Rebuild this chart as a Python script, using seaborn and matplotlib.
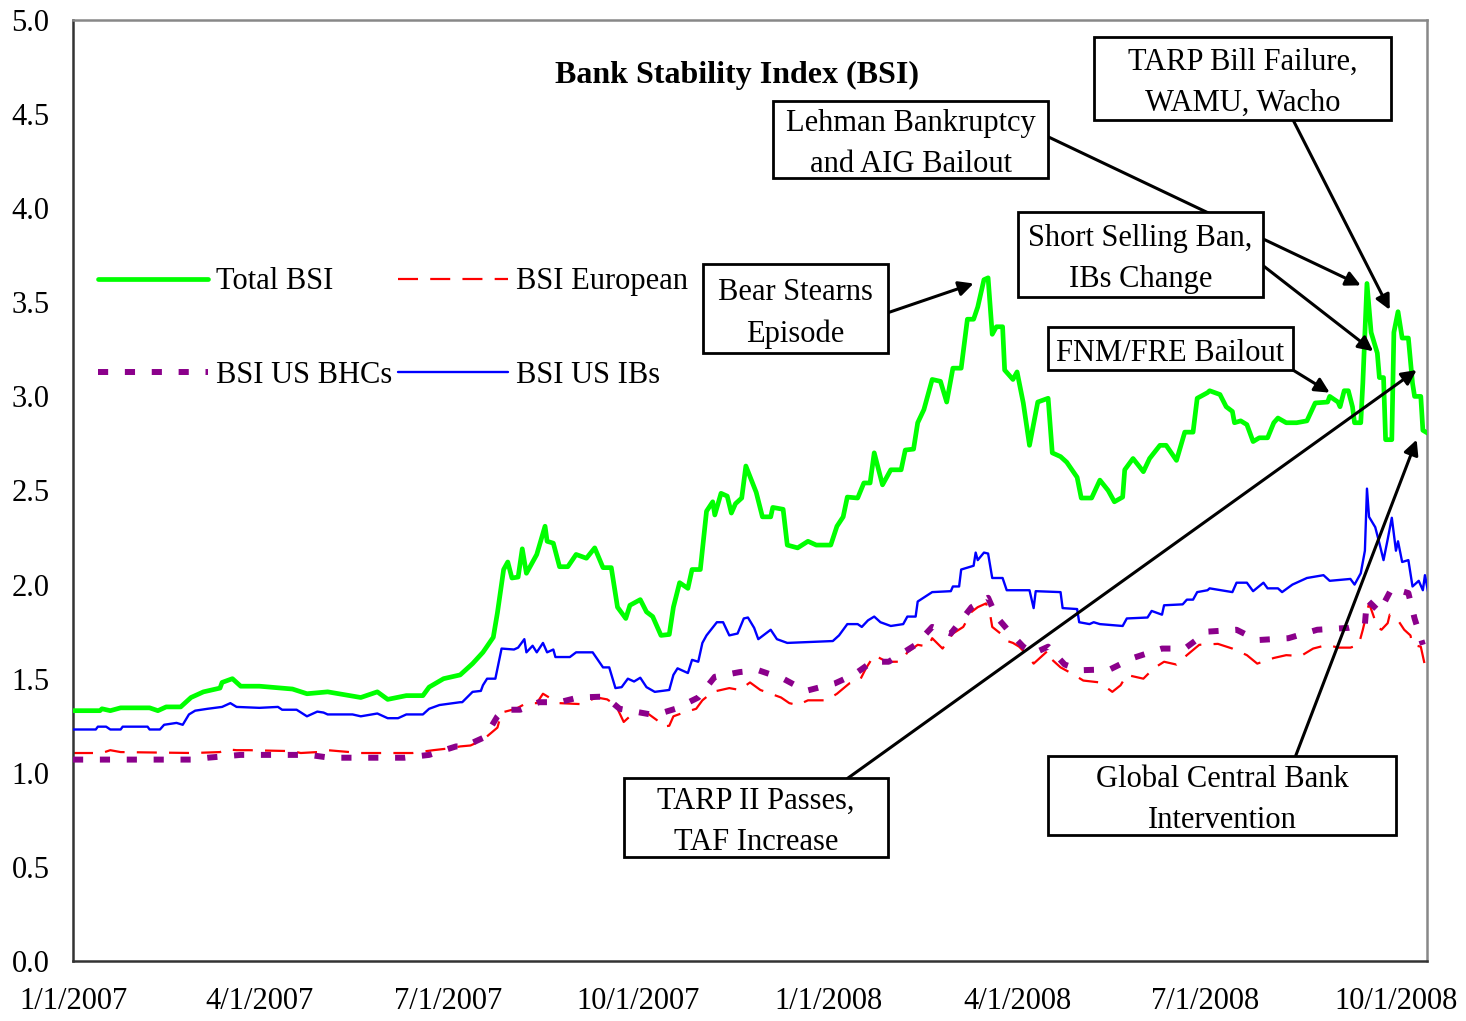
import pandas as pd
import seaborn as sns
import matplotlib.pyplot as plt
from matplotlib.patches import Rectangle

# days since 1/1/2007 and index values
total_day = [0, 13, 14, 18, 23, 37, 41, 45, 52, 57, 63, 71, 72, 77, 81, 90, 106, 113, 123, 139,
             147, 152, 161, 169, 172, 179, 187, 193, 198, 203, 205, 208, 210, 212, 215, 217, 219,
             224, 228, 229, 232, 235, 239, 243, 248, 252, 256, 260, 263, 267, 269, 274, 277, 280,
             284, 288, 290, 293, 297, 299, 303, 306, 309, 310, 313, 316, 318, 320, 323, 325, 330,
             333, 337, 338, 343, 345, 350, 355, 359, 366, 369, 372, 374, 379, 382, 385, 387, 391,
             395, 400, 402, 406, 408, 411, 415, 419, 422, 425, 429, 432, 435, 437, 440, 442, 444,
             446, 449, 450, 454, 456, 459, 462, 466, 471, 473, 477, 480, 485, 487, 492, 496, 500,
             503, 507, 508, 512, 517, 520, 525, 528, 533, 537, 541, 543, 548, 549, 554, 557, 560,
             561, 564, 567, 570, 573, 577, 580, 582, 586, 591, 596, 600, 606, 607, 611, 612, 614,
             616, 618, 619, 622, 623, 625, 627, 630, 631, 633, 634, 637, 638, 640, 642, 645, 647,
             648, 651, 652, 655]
total_bsi = [1.33, 1.33, 1.34, 1.33, 1.345, 1.345, 1.33, 1.35, 1.35, 1.40, 1.43, 1.45, 1.48, 1.50,
             1.46, 1.46, 1.445, 1.42, 1.43, 1.40, 1.43, 1.39, 1.41, 1.41, 1.455, 1.50, 1.52, 1.58,
             1.64, 1.72, 1.85, 2.08, 2.12, 2.035, 2.04, 2.19, 2.06, 2.16, 2.31, 2.23, 2.22, 2.095,
             2.095, 2.16, 2.14, 2.195, 2.09, 2.09, 1.88, 1.82, 1.89, 1.92, 1.855, 1.83, 1.73, 1.735,
             1.88, 2.01, 1.98, 2.08, 2.08, 2.39, 2.44, 2.37, 2.485, 2.47, 2.38, 2.43, 2.46, 2.63,
             2.49, 2.36, 2.36, 2.41, 2.40, 2.21, 2.195, 2.23, 2.21, 2.21, 2.31, 2.36, 2.465, 2.46,
             2.54, 2.54, 2.70, 2.53, 2.61, 2.61, 2.715, 2.72, 2.86, 2.93, 3.09, 3.08, 2.97, 3.15,
             3.15, 3.41, 3.41, 3.475, 3.62, 3.63, 3.33, 3.37, 3.37, 3.14, 3.09, 3.13, 2.965, 2.74,
             2.97, 2.99, 2.70, 2.68, 2.65, 2.57, 2.46, 2.46, 2.555, 2.50, 2.44, 2.465, 2.61, 2.67,
             2.60, 2.67, 2.74, 2.74, 2.66, 2.81, 2.81, 2.99, 3.02, 3.03, 3.01, 2.945, 2.92, 2.86,
             2.87, 2.85, 2.76, 2.78, 2.78, 2.86, 2.885, 2.86, 2.86, 2.87, 2.965, 2.97, 3.00, 2.97,
             2.945, 3.03, 3.03, 2.945, 2.86, 2.86, 3.07, 3.60, 3.34, 3.23, 3.10, 3.10, 2.77, 2.77,
             3.34, 3.45, 3.31, 3.31, 3.07, 3.00, 3.00, 2.82, 2.80]

ibs_day = [0, 11, 12, 16, 18, 23, 24, 36, 37, 42, 44, 50, 53, 56, 59, 65, 72, 76, 79, 90, 99,
           101, 108, 113, 118, 121, 123, 135, 139, 147, 152, 157, 161, 169, 172, 177, 187, 188,
           193, 197, 198, 200, 204, 207, 213, 215, 218, 219, 222, 224, 227, 229, 232, 233, 240,
           243, 251, 256, 259, 262, 265, 268, 271, 274, 277, 281, 288, 290, 292, 297, 299, 302,
           304, 306, 311, 314, 317, 321, 324, 326, 329, 331, 337, 340, 345, 367, 370, 374, 379,
           381, 384, 387, 390, 395, 401, 403, 407, 408, 415, 424, 425, 428, 429, 435, 436, 437,
           440, 442, 444, 449, 451, 462, 464, 465, 477, 478, 485, 486, 491, 493, 496, 507, 509,
           519, 521, 526, 527, 536, 538, 541, 543, 548, 549, 560, 562, 567, 570, 575, 577, 582,
           584, 589, 596, 604, 607, 617, 619, 622, 624, 625, 626, 629, 631, 633, 635, 637, 639,
           640, 642, 645, 647, 650, 652, 653, 655]
us_ibs = [1.23, 1.23, 1.245, 1.245, 1.23, 1.23, 1.245, 1.245, 1.23, 1.23, 1.255, 1.265, 1.255,
          1.31, 1.33, 1.34, 1.35, 1.37, 1.35, 1.345, 1.35, 1.335, 1.335, 1.30, 1.325, 1.32, 1.31,
          1.31, 1.30, 1.315, 1.29, 1.29, 1.31, 1.31, 1.34, 1.36, 1.375, 1.375, 1.43, 1.435, 1.465,
          1.50, 1.50, 1.66, 1.655, 1.665, 1.71, 1.64, 1.675, 1.64, 1.69, 1.64, 1.655, 1.615,
          1.615, 1.64, 1.64, 1.56, 1.56, 1.45, 1.455, 1.50, 1.485, 1.505, 1.455, 1.43, 1.44,
          1.52, 1.555, 1.53, 1.60, 1.59, 1.69, 1.73, 1.80, 1.80, 1.73, 1.74, 1.82, 1.825, 1.77,
          1.71, 1.76, 1.71, 1.69, 1.70, 1.73, 1.79, 1.79, 1.775, 1.81, 1.83, 1.80, 1.78, 1.79,
          1.83, 1.83, 1.91, 1.96, 1.965, 1.99, 1.99, 2.08, 2.10, 2.17, 2.13, 2.17, 2.165, 2.035,
          2.035, 1.97, 1.97, 1.875, 1.965, 1.96, 1.875, 1.87, 1.80, 1.79, 1.80, 1.79, 1.78, 1.82,
          1.825, 1.86, 1.84, 1.89, 1.895, 1.92, 1.92, 1.96, 1.97, 1.98, 1.96, 2.01, 2.01, 1.965,
          2.01, 1.98, 1.98, 1.96, 2.00, 2.035, 2.05, 2.02, 2.03, 2.00, 2.06, 2.18, 2.51, 2.36,
          2.305, 2.22, 2.13, 2.24, 2.355, 2.18, 2.23, 2.12, 2.13, 1.99, 2.02, 1.97, 2.05, 1.935]

euro_day = [0, 14, 18, 23, 58, 71, 74, 79, 85, 106, 110, 118, 123, 139, 164, 174, 182, 187, 192,
            198, 205, 207, 214, 219, 224, 227, 230, 235, 245, 253, 258, 260, 263, 266, 269, 277,
            282, 285, 288, 290, 295, 301, 304, 309, 317, 322, 327, 332, 337, 342, 346, 350, 355,
            364, 369, 375, 380, 383, 387, 393, 400, 403, 408, 413, 415, 420, 425, 430, 434, 437,
            441, 443, 444, 448, 450, 454, 457, 461, 464, 471, 473, 477, 482, 488, 496, 502, 506,
            509, 517, 522, 527, 533, 538, 544, 553, 560, 567, 572, 580, 586, 593, 599, 606, 611,
            617, 621, 623, 626, 627, 630, 632, 635, 636, 640, 643, 646, 647, 651, 653]
european = [1.105, 1.105, 1.12, 1.11, 1.105, 1.11, 1.125, 1.12, 1.12, 1.115, 1.105, 1.11, 1.12,
            1.105, 1.105, 1.12, 1.13, 1.14, 1.145, 1.175, 1.24, 1.32, 1.34, 1.37, 1.37, 1.42, 1.40,
            1.37, 1.365, 1.40, 1.39, 1.375, 1.34, 1.27, 1.30, 1.32, 1.28, 1.245, 1.25, 1.30, 1.32,
            1.34, 1.385, 1.43, 1.45, 1.44, 1.48, 1.44, 1.42, 1.40, 1.37, 1.36, 1.385, 1.385, 1.42,
            1.475, 1.49, 1.555, 1.625, 1.59, 1.59, 1.64, 1.68, 1.67, 1.715, 1.66, 1.74, 1.775,
            1.855, 1.88, 1.90, 1.84, 1.775, 1.74, 1.705, 1.69, 1.67, 1.625, 1.58, 1.65, 1.60, 1.56,
            1.53, 1.49, 1.48, 1.43, 1.465, 1.52, 1.50, 1.555, 1.59, 1.575, 1.625, 1.68, 1.685,
            1.66, 1.625, 1.58, 1.61, 1.625, 1.62, 1.66, 1.68, 1.665, 1.665, 1.68, 1.76, 1.90, 1.87,
            1.775, 1.76, 1.795, 1.84, 1.81, 1.76, 1.73, 1.68, 1.67, 1.57]

bhc_day = [0, 57, 65, 81, 114, 124, 160, 172, 185, 189, 199, 205, 208, 216, 225, 235, 244, 257,
           264, 269, 279, 282, 291, 302, 310, 322, 331, 343, 354, 368, 377, 386, 394, 407, 415,
           424, 434, 442, 446, 453, 459, 464, 471, 479, 487, 501, 512, 526, 537, 548, 562, 572,
           587, 601, 616, 624, 625, 631, 637, 645, 648, 652]
us_bhcs = [1.07, 1.07, 1.08, 1.095, 1.095, 1.08, 1.08, 1.095, 1.14, 1.14, 1.19, 1.30, 1.335,
           1.335, 1.375, 1.375, 1.40, 1.405, 1.34, 1.33, 1.31, 1.31, 1.34, 1.40, 1.51, 1.535,
           1.545, 1.50, 1.435, 1.475, 1.52, 1.59, 1.59, 1.68, 1.775, 1.74, 1.88, 1.93, 1.83, 1.74,
           1.67, 1.635, 1.67, 1.575, 1.545, 1.55, 1.61, 1.66, 1.66, 1.75, 1.76, 1.705, 1.715,
           1.76, 1.77, 1.79, 1.92, 1.855, 1.98, 1.955, 1.82, 1.68]

start = pd.Timestamp("2007-01-01")


def to_dates(days):
    return start + pd.to_timedelta(days, unit="D")


tick_dates = pd.date_range("2007-01-01", "2008-10-01", freq="QS")
tick_labels = [f"{d.month}/{d.day}/{d.year}" for d in tick_dates]

# callouts: text, box (x0, y0, w, h in axes fraction), arrow start (axes fraction), arrow tip (day, value)
callouts = [
    ("Bear Stearns\nEpisode", (0.4653, 0.6461, 0.1366, 0.0946), (0.602, 0.689), (435, 3.60)),
    ("Lehman Bankruptcy\nand AIG Bailout", (0.5170, 0.8321, 0.2031, 0.0818), (0.720, 0.876), (622, 3.59)),
    ("TARP Bill Failure,\nWAMU, Wacho", (0.7541, 0.8937, 0.2193, 0.0882), (0.901, 0.894), (636, 3.46)),
    ("Short Selling Ban,\nIBs Change", (0.6979, 0.7056, 0.1809, 0.0903), (0.878, 0.740), (628, 3.24)),
    ("FNM/FRE Bailout", (0.7201, 0.6281, 0.1809, 0.0457), (0.901, 0.628), (607, 3.02)),
    ("TARP II Passes,\nTAF Increase", (0.4069, 0.1105, 0.1950, 0.0840), (0.572, 0.194), (649, 3.14)),
    ("Global Central Bank\nIntervention", (0.7201, 0.1339, 0.2570, 0.0840), (0.903, 0.218), (649, 2.77)),
]

sns.set_style("white")
plt.rcParams['font.family'] = ['Liberation Serif', 'DejaVu Serif']
plt.rcParams['text.color'] = 'black'

fig = plt.figure(figsize=(14.66, 10.21), dpi=100)
ax = fig.add_axes([0.0498, 0.0588, 0.9236, 0.9216])

sns.lineplot(x=to_dates(euro_day), y=european, ax=ax, color="#ff0000", lw=1.6,
             linestyle=(0, (9, 5.5)), label="BSI European", zorder=2)
sns.lineplot(x=to_dates(bhc_day), y=us_bhcs, ax=ax, color="#8b008b", lw=4.3,
             linestyle=(0, (1.7, 2.8)), label="BSI US BHCs", zorder=3)
sns.lineplot(x=to_dates(ibs_day), y=us_ibs, ax=ax, color="#0000ff", lw=1.7,
             label="BSI US IBs", zorder=3)
sns.lineplot(x=to_dates(total_day), y=total_bsi, ax=ax, color="#00ff00", lw=3.4,
             label="Total BSI", zorder=3)

ax.set_xlim(start, to_dates([654])[0])
ax.set_ylim(0, 5)
ax.set_xticks(tick_dates)
ax.set_xticklabels(tick_labels)
ax.set_yticks([i * 0.5 for i in range(11)])
ax.set_yticklabels([f"{i * 0.5:.1f}" for i in range(11)])
ax.set_xlabel("")
ax.set_ylabel("")
ax.tick_params(axis="x", direction="in", length=7, width=1, pad=19, labelsize=22, colors="black")
ax.tick_params(axis="y", direction="in", length=7, width=1, pad=17, labelsize=22, colors="black")
for side in ["left", "bottom"]:
    ax.spines[side].set_color("#333333")
    ax.spines[side].set_linewidth(1.8)
for side in ["top", "right"]:
    ax.spines[side].set_color("#888888")
    ax.spines[side].set_linewidth(1.8)

handles, labels = ax.get_legend_handles_labels()
order = [labels.index(n) for n in ["Total BSI", "BSI US BHCs", "BSI European", "BSI US IBs"]]
ax.legend([handles[i] for i in order], [labels[i] for i in order], ncol=2, frameon=False,
          loc="upper left", bbox_to_anchor=(0.0185, 0.737), borderpad=0, borderaxespad=0,
          fontsize=22, handlelength=3.6, handletextpad=0.25, columnspacing=0.2,
          labelspacing=2.1)

ax.text(0.4905, 0.941, "Bank Stability Index (BSI)", transform=ax.transAxes, ha="center",
        va="center", fontsize=23, fontweight="bold")

for text, (x0, y0, w, h), arrow_start, (day, val) in callouts:
    ax.annotate("", xy=(to_dates([day])[0], val), xycoords="data",
                xytext=arrow_start, textcoords="axes fraction",
                arrowprops=dict(arrowstyle="-|>", color="black", lw=2.2,
                                mutation_scale=22, shrinkA=0, shrinkB=0), zorder=5)
    ax.add_patch(Rectangle((x0, y0), w, h, transform=ax.transAxes, facecolor="white",
                           edgecolor="black", lw=2, zorder=6))
    ax.text(x0 + w / 2, y0 + h / 2 - 0.005, text, transform=ax.transAxes, ha="center",
            va="center", fontsize=22, linespacing=1.55, zorder=7)

plt.savefig("out.png", dpi=100)
